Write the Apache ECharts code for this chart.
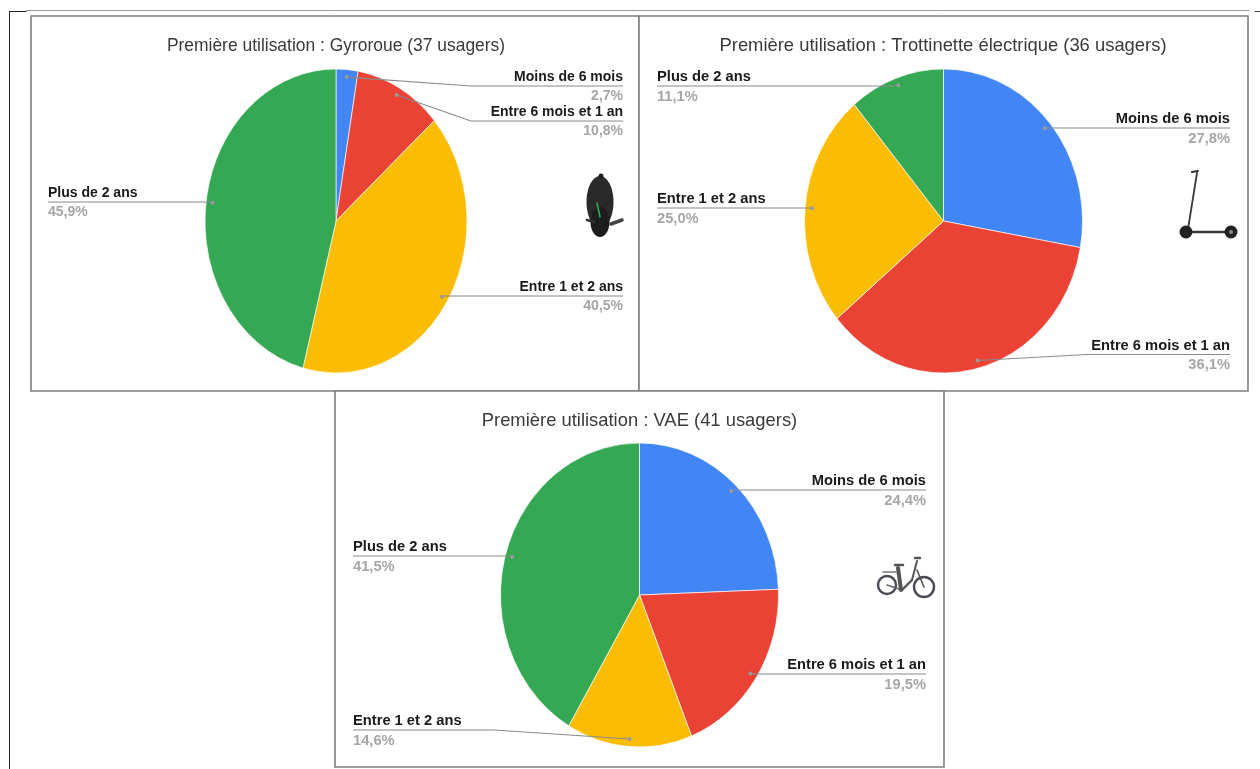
<!DOCTYPE html>
<html><head><meta charset="utf-8">
<style>html,body{margin:0;padding:0;background:#fff}#c{width:1260px;height:769px;filter:blur(0.45px)}</style>
<script src="https://cdn.jsdelivr.net/npm/echarts@6/dist/echarts.min.js"></script>
</head><body><div id="c"></div>
<script>
const categories = ['Moins de 6 mois', 'Entre 6 mois et 1 an', 'Entre 1 et 2 ans', 'Plus de 2 ans'];
const gyroValues = [2.7, 10.8, 40.5, 45.9];
const trottValues = [27.8, 36.1, 25.0, 11.1];
const vaeValues = [24.4, 19.5, 14.6, 41.5];
const colors = ['#4285f4', '#ea4335', '#fbbc04', '#34a853'];
const titles = ['Première utilisation : Gyroroue (37 usagers)', 'Première utilisation : Trottinette électrique (36 usagers)', 'Première utilisation : VAE (41 usagers)'];

const panels = [
  {values: gyroValues, title: titles[0], titleX: 336, titleY: 46, titleSize: 17.45, labelSize: 14, cx: 336, cy: 221, rx: 131, ry: 152,
   labels: [
    {x: 623, align: 'right', y: 86, elbow: 471},
    {x: 623, align: 'right', y: 121, elbow: 471},
    {x: 623, align: 'right', y: 296, elbow: 442},
    {x: 48, align: 'left', y: 202, elbow: 211}]},
  {values: trottValues, title: titles[1], titleX: 943, titleY: 46, titleSize: 18.4, labelSize: 14.7, cx: 943.5, cy: 221, rx: 139, ry: 152,
   labels: [
    {x: 1230, align: 'right', y: 128, elbow: 1045},
    {x: 1230, align: 'right', y: 354.5, elbow: 1087},
    {x: 657, align: 'left', y: 208, elbow: 812},
    {x: 657, align: 'left', y: 86, elbow: 897}]},
  {values: vaeValues, title: titles[2], titleX: 639.5, titleY: 421, titleSize: 18.4, labelSize: 14.7, cx: 639.5, cy: 595, rx: 139, ry: 152,
   labels: [
    {x: 926, align: 'right', y: 490, elbow: 731},
    {x: 926, align: 'right', y: 674, elbow: 751},
    {x: 353, align: 'left', y: 730, elbow: 494},
    {x: 353, align: 'left', y: 556, elbow: 512}]}
];
const FF = '"Liberation Sans", Arial, sans-serif';
const ANCHOR = 0.95;

function angles(values, i) {
  const total = values.reduce((a, b) => a + b, 0);
  const before = values.slice(0, i).reduce((a, b) => a + b, 0);
  return [before / total * 2 * Math.PI, (before + values[i]) / total * 2 * Math.PI];
}
function sliceSeries(p) {
  return {
    type: 'custom', coordinateSystem: 'none', silent: true, z: 2,
    data: p.values.map((v, i) => ({name: categories[i], value: [v, i]})),
    renderItem(params, api) {
      const i = api.value(1);
      const a = angles(p.values, i);
      return {type: 'sector', x: p.cx, y: p.cy, scaleX: p.rx / p.ry,
        shape: {cx: 0, cy: 0, r0: 0, r: p.ry, startAngle: a[0] - Math.PI / 2, endAngle: a[1] - Math.PI / 2, clockwise: true},
        style: {fill: colors[i], stroke: '#ffffff', lineWidth: 0.7}};
    }
  };
}
function labelSeries(p) {
  return {
    type: 'custom', coordinateSystem: 'none', silent: true, z: 5,
    data: p.values.map((v, i) => ({name: categories[i], value: [v, i]})),
    renderItem(params, api) {
      const v = api.value(0), i = api.value(1);
      const a = angles(p.values, i), m = (a[0] + a[1]) / 2, L = p.labels[i];
      const dx = p.cx + Math.sin(m) * p.rx * ANCHOR, dy = p.cy - Math.cos(m) * p.ry * ANCHOR;
      const font = 'bold ' + p.labelSize + 'px ' + FF;
      return {type: 'group', children: [
        {type: 'polyline', shape: {points: [[L.x, L.y], [L.elbow, L.y], [dx, dy]]},
         style: {stroke: '#8a8a8a', fill: null, lineWidth: 1.1}},
        {type: 'circle', shape: {cx: dx, cy: dy, r: 2}, style: {fill: '#9a9a9a'}},
        {type: 'text', x: L.x, y: L.y - 9, style: {text: categories[i], fill: '#1a1a1a', font, textAlign: L.align, textVerticalAlign: 'middle'}},
        {type: 'text', x: L.x, y: L.y + 10.5, style: {text: v.toFixed(1).replace('.', ',') + '%', fill: '#a6a6a6', font, textAlign: L.align, textVerticalAlign: 'middle'}}
      ]};
    }
  };
}
const S = '#7f7f7f';
const frame = (x, y, w, h) => ({type: 'rect', z: 1, shape: {x, y, width: w, height: h}, style: {fill: '#fff', stroke: S, lineWidth: 1.6}});
const ln = (x1, y1, x2, y2, c, w) => ({type: 'line', z: 8, shape: {x1, y1, x2, y2}, style: {stroke: c, lineWidth: w, lineCap: 'round'}});
const ring = (cx, cy, r, c, w) => ({type: 'circle', z: 8, shape: {cx, cy, r}, style: {fill: null, stroke: c, lineWidth: w}});
const disc = (cx, cy, r, c) => ({type: 'circle', z: 8, shape: {cx, cy, r}, style: {fill: c}});

const icons = [
  // unicycle
  {type: 'ellipse', z: 8, shape: {cx: 600, cy: 202, rx: 13.5, ry: 26}, style: {fill: '#2a2a2a'}},
  {type: 'ellipse', z: 8, shape: {cx: 600, cy: 222, rx: 9.5, ry: 15}, style: {fill: '#1d1d1d'}},
  disc(601, 176, 2.5, '#1d1d1d'),
  ln(611, 224, 622, 220, '#444', 3.5), ln(587, 220, 594, 222, '#333', 2.5),
  ln(597, 203, 600, 217, '#2fae55', 1.6),
  // scooter
  ln(1197, 173, 1188, 229, '#3a3a3a', 1.8), ln(1192, 172, 1198, 171, '#333', 2),
  ln(1193, 232, 1227, 232, '#3a3a3a', 2.5),
  disc(1186, 232, 6.5, '#222'), disc(1231, 232, 6.5, '#222'), disc(1231, 232, 2, '#888'),
  // bike
  ring(887, 585, 9, '#4a4a55', 2.4), ring(924, 587, 10, '#4a4a55', 2.4),
  ln(883, 572, 896, 572, '#777', 1.5), ln(887, 585, 902, 590, '#666', 1.6),
  ln(898, 568, 901, 590, '#555', 4), ln(902, 590, 912, 580, '#555', 2.4), ln(912, 580, 917, 561, '#555', 2),
  ln(917, 570, 924, 587, '#555', 1.6), ln(895, 565, 903, 565, '#555', 2.5), ln(915, 558, 920, 558, '#555', 2.4)
];

const chart = echarts.init(document.getElementById('c'), null, {renderer: 'canvas'});
chart.setOption({
  animation: false,
  backgroundColor: '#ffffff',
  graphic: {elements: [
    frame(31, 16, 608, 375), frame(639, 16, 609, 375), frame(335, 391, 609, 376),
    ln(26, 10.5, 1249, 10.5, '#9a9a9a', 1), ln(1255, 11.5, 1260, 11.5, '#444', 1),
    ln(9.5, 11.5, 26, 11.5, '#222', 1), ln(9.5, 11.5, 9.5, 769, '#222', 1),
    ...panels.map(p => ({type: 'text', z: 6, x: p.titleX, y: p.titleY,
      style: {text: p.title, font: p.titleSize + 'px ' + FF, fill: '#3a3a3a', textAlign: 'center', textVerticalAlign: 'middle'}})),
    ...icons
  ]},
  series: [...panels.map(sliceSeries), ...panels.map(labelSeries)]
});
</script></body></html>
